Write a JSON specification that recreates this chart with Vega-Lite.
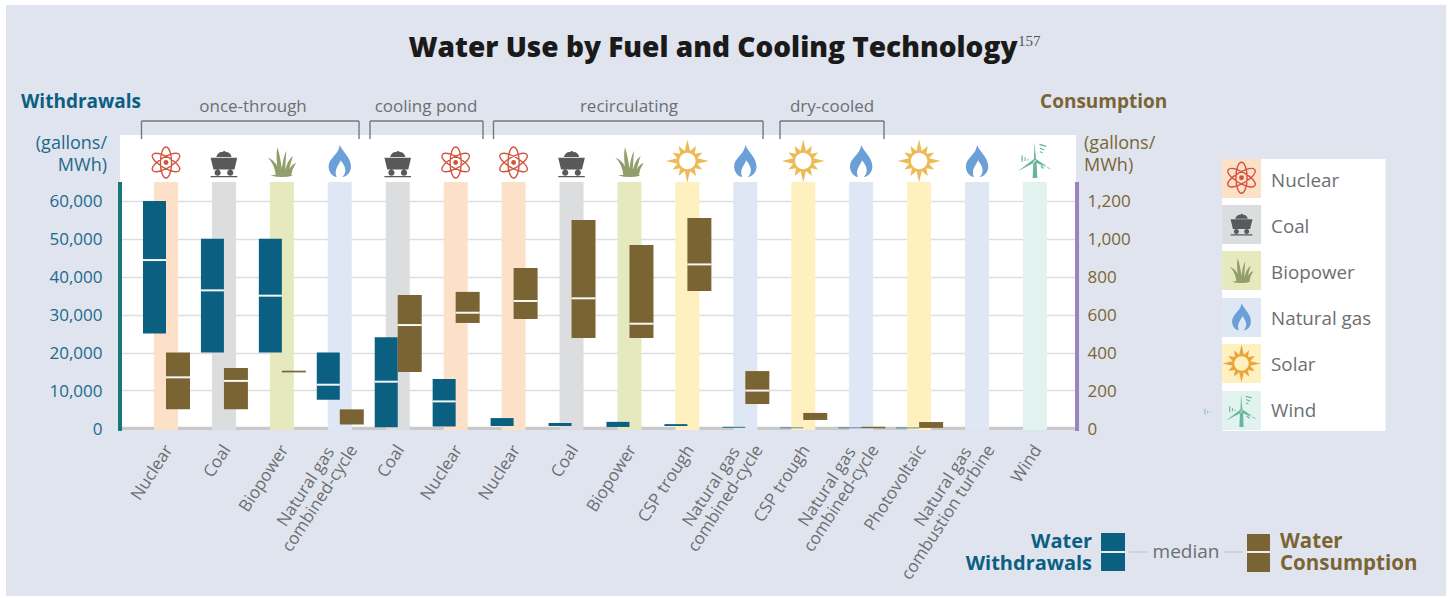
{
"$schema":"https://vega.github.io/schema/vega-lite/v6.json",
"width":956,"height":295,"autosize":"none",
"padding":{"left":120,"top":135,"right":373,"bottom":168},
"background":"#e0e4ef",
"view":{"fill":"#ffffff","stroke":null},
"config":{"legend":{"disable":true},"text":{"font":"Open Sans"}},
"datasets":{
"tech":[
{"slot":0,"tech":"Nuclear","cooling":"once-through","fuel":"Nuclear","w_lo":25000,"w_med":44400,"w_hi":60000,"c_lo":100,"c_med":269,"c_hi":400},
{"slot":1,"tech":"Coal","cooling":"once-through","fuel":"Coal","w_lo":20000,"w_med":36400,"w_hi":50000,"c_lo":100,"c_med":250,"c_hi":318},
{"slot":2,"tech":"Biopower","cooling":"once-through","fuel":"Biopower","w_lo":20000,"w_med":35000,"w_hi":50000,"c_lo":295,"c_med":null,"c_hi":304},
{"slot":3,"tech":"Natural gas combined-cycle","cooling":"once-through","fuel":"Natural gas","w_lo":7500,"w_med":11500,"w_hi":20000,"c_lo":20,"c_med":null,"c_hi":100},
{"slot":4,"tech":"Coal","cooling":"cooling pond","fuel":"Coal","w_lo":300,"w_med":12300,"w_hi":24000,"c_lo":297,"c_med":545,"c_hi":703},
{"slot":5,"tech":"Nuclear","cooling":"cooling pond","fuel":"Nuclear","w_lo":500,"w_med":7100,"w_hi":13000,"c_lo":556,"c_med":610,"c_hi":720},
{"slot":6,"tech":"Nuclear","cooling":"recirculating","fuel":"Nuclear","w_lo":600,"w_med":null,"w_hi":2700,"c_lo":577,"c_med":672,"c_hi":846},
{"slot":7,"tech":"Coal","cooling":"recirculating","fuel":"Coal","w_lo":600,"w_med":null,"w_hi":1400,"c_lo":477,"c_med":686,"c_hi":1100},
{"slot":8,"tech":"Biopower","cooling":"recirculating","fuel":"Biopower","w_lo":350,"w_med":null,"w_hi":1700,"c_lo":477,"c_med":552,"c_hi":967},
{"slot":9,"tech":"CSP trough","cooling":"recirculating","fuel":"Solar","w_lo":600,"w_med":null,"w_hi":1100,"c_lo":725,"c_med":865,"c_hi":1110},
{"slot":10,"tech":"Natural gas combined-cycle","cooling":"recirculating","fuel":"Natural gas","w_lo":150,"w_med":null,"w_hi":380,"c_lo":128,"c_med":199,"c_hi":302},
{"slot":11,"tech":"CSP trough","cooling":"dry-cooled","fuel":"Solar","w_lo":20,"w_med":null,"w_hi":200,"c_lo":44,"c_med":null,"c_hi":81},
{"slot":12,"tech":"Natural gas combined-cycle","cooling":"dry-cooled","fuel":"Natural gas","w_lo":20,"w_med":null,"w_hi":200,"c_lo":0,"c_med":null,"c_hi":8},
{"slot":13,"tech":"Photovoltaic","cooling":"none","fuel":"Solar","w_lo":0,"w_med":null,"w_hi":180,"c_lo":2,"c_med":null,"c_hi":33},
{"slot":14,"tech":"Natural gas combustion turbine","cooling":"none","fuel":"Natural gas","w_lo":null,"w_med":null,"w_hi":null,"c_lo":null,"c_med":null,"c_hi":null},
{"slot":15,"tech":"Wind","cooling":"none","fuel":"Wind","w_lo":null,"w_med":null,"w_hi":null,"c_lo":null,"c_med":null,"c_hi":null}
],
"axisLabels":[
{"slot":0.052,"level":-4935,"label":"Nuclear"},
{"slot":1.052,"level":-4935,"label":"Coal"},
{"slot":2.052,"level":-4935,"label":"Biopower"},
{"slot":2.845,"level":-5462,"label":"Natural gas"},
{"slot":3.242,"level":-4935,"label":"combined-cycle"},
{"slot":4.052,"level":-4935,"label":"Coal"},
{"slot":5.052,"level":-4935,"label":"Nuclear"},
{"slot":6.052,"level":-4935,"label":"Nuclear"},
{"slot":7.052,"level":-4935,"label":"Coal"},
{"slot":8.052,"level":-4935,"label":"Biopower"},
{"slot":9.052,"level":-4935,"label":"CSP trough"},
{"slot":9.845,"level":-5462,"label":"Natural gas"},
{"slot":10.242,"level":-4935,"label":"combined-cycle"},
{"slot":11.052,"level":-4935,"label":"CSP trough"},
{"slot":11.845,"level":-5462,"label":"Natural gas"},
{"slot":12.242,"level":-4935,"label":"combined-cycle"},
{"slot":13.052,"level":-4935,"label":"Photovoltaic"},
{"slot":13.845,"level":-5462,"label":"Natural gas"},
{"slot":14.242,"level":-4935,"label":"combustion turbine"},
{"slot":15.052,"level":-4935,"label":"Wind"}
],
"brackets":[
{"slot":-0.423,"slot2":3.332,"label":"once-through","mid":1.502,"level":81100,"level2":76350,"labelLevel":84791},
{"slot":3.521,"slot2":5.472,"label":"cooling pond","mid":4.488,"level":81100,"level2":76350,"labelLevel":84791},
{"slot":5.653,"slot2":10.306,"label":"recirculating","mid":7.992,"level":81100,"level2":76350,"labelLevel":84791},
{"slot":10.599,"slot2":12.394,"label":"dry-cooled","mid":11.497,"level":81100,"level2":76350,"labelLevel":84791}
],
"swatches":[
{"fuel":"Nuclear","slot":18.229,"slot2":18.902,"level":71068,"level2":60776},
{"fuel":"Coal","slot":18.229,"slot2":18.902,"level":58929,"level2":48637},
{"fuel":"Biopower","slot":18.229,"slot2":18.902,"level":46789,"level2":36498},
{"fuel":"Natural gas","slot":18.229,"slot2":18.902,"level":34386,"level2":24094},
{"fuel":"Solar","slot":18.229,"slot2":18.902,"level":22247,"level2":11955},
{"fuel":"Wind","slot":18.229,"slot2":18.902,"level":9844,"level2":-449}
],
"atoms":[
{"slot":0,"level":70145},{"slot":5,"level":70145},{"slot":6,"level":70145},{"slot":18.565,"level":66130}
],
"icons":[
{"slot":1,"level":69750,"key":"coal"},{"slot":4,"level":69750,"key":"coal"},{"slot":7,"level":69750,"key":"coal"},
{"slot":2,"level":70278,"key":"bio"},{"slot":8,"level":70278,"key":"bio"},
{"slot":3,"level":70542,"key":"gas"},{"slot":10,"level":70542,"key":"gas"},{"slot":12,"level":70542,"key":"gas"},{"slot":14,"level":70542,"key":"gas"},
{"slot":9,"level":70542,"key":"sun"},{"slot":11,"level":70542,"key":"sun"},{"slot":13,"level":70542,"key":"sun"},
{"slot":15,"level":70806,"key":"wind"},
{"slot":18.565,"level":53783,"key":"coal legend"},
{"slot":18.565,"level":41644,"key":"bio legend"},
{"slot":18.565,"level":29450,"key":"gas legend"},
{"slot":18.565,"level":17101,"key":"sun legend"},
{"slot":18.565,"level":4697,"key":"wind legend"},
{"slot":17.99,"level":4300,"key":"speck"}
]
},
"encoding":{"x":{"field":"slot","type":"quantitative","scale":{"domain":[-0.794,15.708],"nice":false,"zero":false,"padding":0},"axis":null}},
"layer":[
{"layer":[
 {"data":{"values":[{"slot":0,"zero":0}]},
  "mark":{"type":"rule","color":"#c9c9c9","strokeWidth":3.3},
  "encoding":{"x":{"value":0},"x2":{"value":956},
   "y":{"field":"zero","type":"quantitative","scale":{"domain":[-450,77400],"nice":false,"zero":false,"padding":0},
    "axis":{"values":[0,10000,20000,30000,40000,50000,60000],"format":",.0f","title":null,"domain":false,"ticks":false,"grid":true,"gridColor":"#dedede","gridWidth":1.5,"labelColor":"#1b6a8c","labelFont":"Open Sans","labelFontSize":17,"labelPadding":18,"labelOffset":1}}}},
 {"data":{"name":"tech"},
  "mark":{"type":"bar","width":24,"orient":"vertical"},
  "encoding":{"y":{"datum":65000,"type":"quantitative","scale":{"domain":[-450,77400],"nice":false,"zero":false,"padding":0}},"y2":{"datum":-450},
   "fill":{"field":"fuel","type":"nominal","scale":{"domain":["Nuclear","Coal","Biopower","Natural gas","Solar","Wind"],"range":["#fde0c8","#dcdddf","#e6e9be","#e0e7f4","#fef1bf","#e2f2ef"]}}}},
 {"data":{"name":"tech"},
  "mark":{"type":"bar","width":23,"xOffset":-11.5,"orient":"vertical","color":"#0b6082"},
  "encoding":{"y":{"field":"w_hi","type":"quantitative","scale":{"domain":[-450,77400],"nice":false,"zero":false,"padding":0}},"y2":{"field":"w_lo"}}},
 {"data":{"name":"tech"},
  "mark":{"type":"tick","orient":"horizontal","size":23,"thickness":2,"xOffset":-11.5,"color":"#ffffff","opacity":0.95},
  "encoding":{"y":{"field":"w_med","type":"quantitative","scale":{"domain":[-450,77400],"nice":false,"zero":false,"padding":0}}}}
]},
{"layer":[
 {"data":{"name":"tech"},
  "mark":{"type":"bar","width":24,"xOffset":12,"orient":"vertical","color":"#7b6434"},
  "encoding":{"y":{"field":"c_hi","type":"quantitative","scale":{"domain":[-9,1548],"nice":false,"zero":false,"padding":0},
    "axis":{"orient":"right","values":[0,200,400,600,800,1000,1200],"format":",.0f","title":null,"domain":false,"ticks":false,"grid":false,"labelColor":"#7b6434","labelFont":"Open Sans","labelFontSize":17,"labelPadding":11,"labelOffset":1}},"y2":{"field":"c_lo"}}},
 {"data":{"name":"tech"},
  "mark":{"type":"tick","orient":"horizontal","size":24,"thickness":2,"xOffset":12,"color":"#ffffff","opacity":0.95},
  "encoding":{"y":{"field":"c_med","type":"quantitative","scale":{"domain":[-9,1548],"nice":false,"zero":false,"padding":0}}}}
]},
{"encoding":{"y":{"field":"level","type":"quantitative","scale":{"domain":[-450,77400],"nice":false,"zero":false,"padding":0},"axis":null}},
 "layer":[
 {"data":{"values":[{"slot":-0.794,"level":65000,"level2":-700}]},"mark":{"type":"rule","color":"#16767a","strokeWidth":4},"encoding":{"y2":{"field":"level2"}}},
 {"data":{"values":[{"slot":15.726,"level":65000,"level2":-700}]},"mark":{"type":"rule","color":"#9b83bb","strokeWidth":4},"encoding":{"y2":{"field":"level2"}}},
 {"data":{"name":"brackets"},"mark":{"type":"rule","color":"#77787b","strokeWidth":1.4},"encoding":{"x2":{"field":"slot2"}}},
 {"data":{"name":"brackets"},"mark":{"type":"rule","color":"#77787b","strokeWidth":1.4},"encoding":{"y2":{"field":"level2"}}},
 {"data":{"name":"brackets"},"mark":{"type":"rule","color":"#77787b","strokeWidth":1.4},"encoding":{"x":{"field":"slot2","type":"quantitative"},"y2":{"field":"level2"}}},
 {"data":{"name":"brackets"},"mark":{"type":"text","fontSize":17,"color":"#6d6e71","font":"Open Sans"},"encoding":{"x":{"field":"mid","type":"quantitative"},"y":{"field":"labelLevel","type":"quantitative"},"text":{"field":"label"}}},
 {"data":{"name":"axisLabels"},"mark":{"type":"text","fontSize":17,"color":"#6d6e71","font":"Open Sans","angle":303,"align":"right","baseline":"middle"},"encoding":{"text":{"field":"label"}}},
 {"data":{"values":[{"slot":9.442,"level":100097,"label":"Water Use by Fuel and Cooling Technology"}]},"mark":{"type":"text","fontSize":28,"fontWeight":800,"color":"#1a1a1a","font":"Open Sans"},"encoding":{"text":{"field":"label"}}},
 {"data":{"values":[{"slot":14.707,"level":102208,"label":"157"}]},"mark":{"type":"text","fontSize":15,"color":"#555555","font":"Liberation Serif","align":"left"},"encoding":{"text":{"field":"label"}}},
 {"data":{"values":[{"slot":-2.503,"level":86110,"label":"Withdrawals"}]},"mark":{"type":"text","fontSize":19,"fontWeight":700,"color":"#0b6082","font":"Open Sans","align":"left"},"encoding":{"text":{"field":"label"}}},
 {"data":{"values":[{"slot":15.087,"level":86110,"label":"Consumption"}]},"mark":{"type":"text","fontSize":19,"fontWeight":700,"color":"#7b6434","font":"Open Sans","align":"left"},"encoding":{"text":{"field":"label"}}},
 {"data":{"values":[{"slot":-1.018,"level":75027,"label":"(gallons/|MWh)"}]},"mark":{"type":"text","fontSize":18,"color":"#1b6a8c","font":"Open Sans","align":"right","lineBreak":"|","lineHeight":22},"encoding":{"text":{"field":"label"}}},
 {"data":{"values":[{"slot":15.847,"level":75027,"label":"(gallons/|MWh)"}]},"mark":{"type":"text","fontSize":18,"color":"#7b6434","font":"Open Sans","align":"left","lineBreak":"|","lineHeight":22},"encoding":{"text":{"field":"label"}}},
 {"data":{"values":[{"slot":18.229,"slot2":21.05,"level":71068,"level2":-713}]},"mark":{"type":"rect","color":"#ffffff"},"encoding":{"x2":{"field":"slot2"},"y2":{"field":"level2"}}},
 {"data":{"name":"swatches"},"mark":{"type":"rect"},"encoding":{"x2":{"field":"slot2"},"y2":{"field":"level2"},"fill":{"field":"fuel","type":"nominal"}}},
 {"data":{"values":[{"slot":19.075,"level":65263,"label":"Nuclear"},{"slot":19.075,"level":53123,"label":"Coal"},{"slot":19.075,"level":40984,"label":"Biopower"},{"slot":19.075,"level":28845,"label":"Natural gas"},{"slot":19.075,"level":16705,"label":"Solar"},{"slot":19.075,"level":4565,"label":"Wind"}]},"mark":{"type":"text","fontSize":18.8,"color":"#6d6e71","font":"Open Sans","align":"left"},"encoding":{"text":{"field":"label"}}},
 {"data":{"name":"atoms"},"mark":{"type":"point","filled":false,"opacity":1,"strokeWidth":1.4,"color":"#d0553f","size":961,"shape":"M0 -1 A1 .36 90 1 0 0 1 A1 .36 90 1 0 0 -1Z M.866 .5 A1 .36 30 1 0 -.866 -.5 A1 .36 30 1 0 .866 .5Z M.866 -.5 A1 .36 -30 1 0 -.866 .5 A1 .36 -30 1 0 .866 -.5Z"}},
 {"data":{"name":"atoms"},"mark":{"type":"point","filled":true,"opacity":1,"color":"#d0553f","size":24,"shape":"circle"}},
 {"data":{"name":"icons"},"mark":{"type":"point","filled":true,"opacity":1,"strokeWidth":0},
  "encoding":{
   "shape":{"field":"key","type":"ordinal","scale":{"domain":["coal","bio","gas","sun","wind","coal legend","bio legend","gas legend","sun legend","wind legend","speck"],
    "range":[
"M-.55 -.5 Q-.4 -.9 -.1 -.85 Q0 -1 .15 -.85 Q.45 -.85 .55 -.5Z M-.95 -.45 L.95 -.45 L.75 .4 L-.75 .4Z M-.67 .62 A.22 .22 0 1 1 -.23 .62 A.22 .22 0 1 1 -.67 .62Z M.23 .62 A.22 .22 0 1 1 .67 .62 A.22 .22 0 1 1 .23 .62Z M-.95 .85 L.95 .85 L.95 .95 L-.95 .95Z",
"M-.75 .9 Q0 .72 .75 .9 Q0 1.1 -.75 .9Z M-.4 .9 Q-.5 .1 -.95 -.3 Q-.25 -.05 -.12 .9Z M-.2 .9 Q-.45 -.3 -.3 -1 Q-.05 -.2 .05 .9Z M-.05 .9 Q.05 -.3 .3 -.75 Q.25 -.1 .2 .9Z M.15 .9 Q.3 -.1 .75 -.4 Q.55 .1 .42 .9Z M.35 .9 Q.5 .2 .95 .05 Q.7 .4 .62 .9Z",
"M0 -1 C.2 -.55 .7 -.2 .7 .35 C.7 .75 .4 1 .15 1 C.45 .75 .4 .35 .05 -.05 C0 .2 -.4 .5 -.2 1 C-.45 1 -.7 .7 -.7 .35 C-.7 -.2 -.05 -.4 0 -1Z",
"M0 -1 L.124 -.464 L.4 -.693 L.339 -.339 L.693 -.4 L.464 -.124 L1 0 L.464 .124 L.693 .4 L.339 .339 L.4 .693 L.124 .464 L0 1 L-.124 .464 L-.4 .693 L-.339 .339 L-.693 .4 L-.464 .124 L-1 0 L-.464 -.124 L-.693 -.4 L-.339 -.339 L-.4 -.693 L-.124 -.464Z M0 -.38 A.38 .38 0 1 0 0 .38 A.38 .38 0 1 0 0 -.38Z",
"M-.03 -1 L.06 0 L-.06 0Z M-.09 .1 L-.13 1 L.13 1 L.09 .1Z M-.95 .62 L-.06 -.06 L0 .12Z M.95 .55 L.06 -.06 L0 .12Z M.25 -.9 L.62 -.8 L.62 -.72 L.25 -.82Z M.27 -.7 L.52 -.6 L.52 -.53 L.27 -.63Z M.27 -.5 L.42 -.43 L.42 -.36 L.27 -.43Z M-.75 -.25 L-.68 -.25 L-.68 .1 L-.75 .1Z M-.58 -.15 L-.52 -.15 L-.52 .05 L-.58 .05Z M-.42 -.05 L-.36 -.05 L-.36 .03 L-.42 .03Z M.3 .35 L.36 .3 L.5 .45 L.44 .5Z M.45 .25 L.5 .2 L.72 .4 L.66 .45Z",
"M-.55 -.5 Q-.4 -.9 -.1 -.85 Q0 -1 .15 -.85 Q.45 -.85 .55 -.5Z M-.95 -.45 L.95 -.45 L.75 .4 L-.75 .4Z M-.67 .62 A.22 .22 0 1 1 -.23 .62 A.22 .22 0 1 1 -.67 .62Z M.23 .62 A.22 .22 0 1 1 .67 .62 A.22 .22 0 1 1 .23 .62Z M-.95 .85 L.95 .85 L.95 .95 L-.95 .95Z",
"M-.75 .9 Q0 .72 .75 .9 Q0 1.1 -.75 .9Z M-.4 .9 Q-.5 .1 -.95 -.3 Q-.25 -.05 -.12 .9Z M-.2 .9 Q-.45 -.3 -.3 -1 Q-.05 -.2 .05 .9Z M-.05 .9 Q.05 -.3 .3 -.75 Q.25 -.1 .2 .9Z M.15 .9 Q.3 -.1 .75 -.4 Q.55 .1 .42 .9Z M.35 .9 Q.5 .2 .95 .05 Q.7 .4 .62 .9Z",
"M0 -1 C.2 -.55 .7 -.2 .7 .35 C.7 .75 .4 1 .15 1 C.45 .75 .4 .35 .05 -.05 C0 .2 -.4 .5 -.2 1 C-.45 1 -.7 .7 -.7 .35 C-.7 -.2 -.05 -.4 0 -1Z",
"M0 -1 L.124 -.464 L.4 -.693 L.339 -.339 L.693 -.4 L.464 -.124 L1 0 L.464 .124 L.693 .4 L.339 .339 L.4 .693 L.124 .464 L0 1 L-.124 .464 L-.4 .693 L-.339 .339 L-.693 .4 L-.464 .124 L-1 0 L-.464 -.124 L-.693 -.4 L-.339 -.339 L-.4 -.693 L-.124 -.464Z M0 -.38 A.38 .38 0 1 0 0 .38 A.38 .38 0 1 0 0 -.38Z",
"M-.03 -1 L.06 0 L-.06 0Z M-.09 .1 L-.13 1 L.13 1 L.09 .1Z M-.95 .62 L-.06 -.06 L0 .12Z M.95 .55 L.06 -.06 L0 .12Z M.25 -.9 L.62 -.8 L.62 -.72 L.25 -.82Z M.27 -.7 L.52 -.6 L.52 -.53 L.27 -.63Z M.27 -.5 L.42 -.43 L.42 -.36 L.27 -.43Z M-.75 -.25 L-.68 -.25 L-.68 .1 L-.75 .1Z M-.58 -.15 L-.52 -.15 L-.52 .05 L-.58 .05Z M-.42 -.05 L-.36 -.05 L-.36 .03 L-.42 .03Z M.3 .35 L.36 .3 L.5 .45 L.44 .5Z M.45 .25 L.5 .2 L.72 .4 L.66 .45Z",
"M-.9 -.8 L-.7 -.8 L-.7 .6 L-.9 .6Z M-.2 -.3 L0 -.3 L0 .3 L-.2 .3Z M.5 -.1 L.7 -.1 L.7 .1 L.5 .1Z"
]}},
   "size":{"field":"key","type":"ordinal","scale":{"type":"ordinal","domain":["coal","bio","gas","sun","wind","coal legend","bio legend","gas legend","sun legend","wind legend","speck"],"range":[784,900,1024,1849,1296,529,625,729,1444,1089,64]}},
   "color":{"field":"key","type":"ordinal","scale":{"domain":["coal","bio","gas","sun","wind","coal legend","bio legend","gas legend","sun legend","wind legend","speck"],"range":["#58595b","#939f6b","#6a9fd8","#ecbb55","#69b79a","#58595b","#939f6b","#6a9fd8","#eda33b","#69b79a","#69b79a"]}}
  }},
 {"data":{"values":[{"slot":16.14,"slot2":16.554,"level":-27631,"level2":-37659}]},"mark":{"type":"rect","color":"#0b6082"},"encoding":{"x2":{"field":"slot2"},"y2":{"field":"level2"}}},
 {"data":{"values":[{"slot":18.66,"slot2":19.057,"level":-27894,"level2":-37923}]},"mark":{"type":"rect","color":"#7b6434"},"encoding":{"x2":{"field":"slot2"},"y2":{"field":"level2"}}},
 {"data":{"values":[{"slot":16.14,"slot2":16.554,"level":-32645},{"slot":18.66,"slot2":19.057,"level":-32645}]},"mark":{"type":"rule","color":"#ffffff","strokeWidth":1.8},"encoding":{"x2":{"field":"slot2"}}},
 {"data":{"values":[{"slot":16.623,"slot2":16.951,"level":-32645},{"slot":18.263,"slot2":18.591,"level":-32645}]},"mark":{"type":"rule","color":"#c9ccd4","strokeWidth":1.4},"encoding":{"x2":{"field":"slot2"}}},
 {"data":{"values":[{"slot":17.607,"level":-32645,"label":"median"}]},"mark":{"type":"text","fontSize":19,"color":"#6d6e71","font":"Open Sans"},"encoding":{"text":{"field":"label"}}},
 {"data":{"values":[{"slot":15.985,"level":-30000,"label":"Water|Withdrawals"}]},"mark":{"type":"text","fontSize":20,"fontWeight":700,"color":"#0b6082","font":"Open Sans","align":"right","lineBreak":"|","lineHeight":22},"encoding":{"text":{"field":"label"}}},
 {"data":{"values":[{"slot":19.23,"level":-30000,"label":"Water|Consumption"}]},"mark":{"type":"text","fontSize":20.5,"fontWeight":700,"color":"#7b6434","font":"Open Sans","align":"left","lineBreak":"|","lineHeight":22},"encoding":{"text":{"field":"label"}}},
 {"data":{"values":[{"slot":-2.866,"slot2":-2.762,"level":113030,"level2":-44784},{"slot":-2.866,"slot2":22.147,"level":113030,"level2":111709},{"slot":22.096,"slot2":22.147,"level":113030,"level2":-44784},{"slot":-2.866,"slot2":22.147,"level":-44256,"level2":-44784}]},"mark":{"type":"rect","color":"#ffffff"},"encoding":{"x2":{"field":"slot2"},"y2":{"field":"level2"}}}
 ]}
],
"resolve":{"scale":{"y":"independent"}}
}
